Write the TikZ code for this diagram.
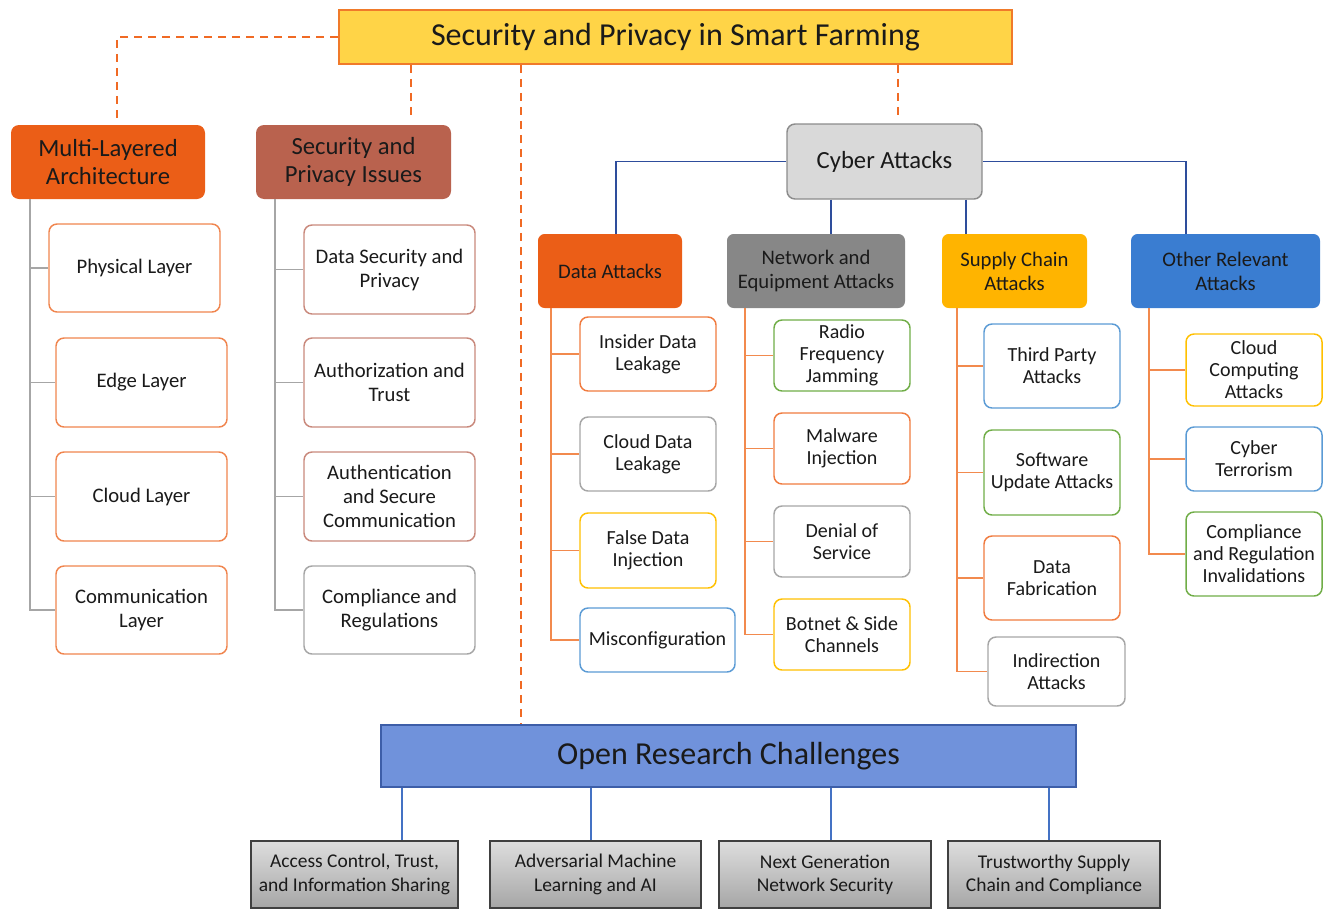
\documentclass[tikz,border=0pt]{standalone}
\usepackage{fontspec}
\setmainfont{Carlito}
\usetikzlibrary{calc}
\definecolor{cYel}{HTML}{FFD447}
\definecolor{cOrT}{HTML}{F07A2A}
\definecolor{cDash}{HTML}{F06A24}
\definecolor{cOrH}{HTML}{EB5E17}
\definecolor{cBrH}{HTML}{B9624E}
\definecolor{cGrL}{HTML}{A6A6A6}
\definecolor{cOrL}{HTML}{F0854E}
\definecolor{cBrL}{HTML}{C9897C}
\definecolor{cCyF}{HTML}{D9D9D9}
\definecolor{cCyD}{HTML}{8C8C8C}
\definecolor{cBlC}{HTML}{2E4D9C}
\definecolor{cNet}{HTML}{878787}
\definecolor{cSup}{HTML}{FFB400}
\definecolor{cOth}{HTML}{3A7DD1}
\definecolor{cTreeO}{HTML}{F28A4E}
\definecolor{cLO}{HTML}{F07B3F}
\definecolor{cLY}{HTML}{FFC000}
\definecolor{cLB}{HTML}{5B9BD5}
\definecolor{cLG}{HTML}{70AD47}
\definecolor{cOrcF}{HTML}{7092DB}
\definecolor{cOrcD}{HTML}{3D5EA8}
\definecolor{cBotL}{HTML}{4472C4}
\definecolor{cTx}{HTML}{1A1A1A}
\newcommand\bx[7]{\node[#2, minimum width={(#5-#3)*0.75pt}, minimum height={(#6-#4)*0.75pt}] (#1) at ({(#3+#5)/2},{(#4+#6)/2}) {#7};}
\tikzset{
  base/.style={inner sep=2pt, align=center, text=cTx},
  titlebox/.style={base, draw=cOrT, line width=1.2pt, fill=cYel, font=\fontsize{24}{28}\selectfont},
  hdr/.style={base, rounded corners=6pt, font=\fontsize{18.5}{21}\selectfont},
  sub/.style={base, rounded corners=5pt, font=\fontsize{15.5}{18}\selectfont},
  leaf/.style={base, draw, fill=white, line width=1.1pt, rounded corners=6pt, font=\fontsize{15}{16.5}\selectfont},
  leafL/.style={leaf, font=\fontsize{15.5}{18}\selectfont},
  orcbox/.style={base, draw=cOrcD, fill=cOrcF, line width=1pt, font=\fontsize{24}{28}\selectfont},
  botbox/.style={base, draw=black!75, line width=1pt, top color=black!13, bottom color=black!35, font=\fontsize{14.6}{17.5}\selectfont},
  dashline/.style={draw=cDash, line width=1.8pt, dash pattern=on 6pt off 4.5pt},
  gline/.style={draw=cGrL, line width=1.2pt},
  oline/.style={draw=cTreeO, line width=1.2pt},
  bline/.style={draw=cBlC, line width=1pt},
  lbline/.style={draw=cBotL, line width=1pt}
}
\begin{document}
\begin{tikzpicture}[x=0.75pt,y=-0.75pt]
\useasboundingbox (0,0) rectangle (1327,910);
% top
\bx{title}{titlebox}{339}{10}{1012}{64}{Security and Privacy in Smart Farming}
\bx{mla}{hdr, fill=cOrH}{11}{125}{205}{199}{Multi-Layered\\Architecture}
\bx{spi}{hdr, fill=cBrH}{256}{125}{451}{199}{Security and\\Privacy Issues}
\bx{cyber}{hdr, draw=cCyD, line width=1.1pt, fill=cCyF}{787}{124}{982}{199}{Cyber Attacks}
\bx{orc}{orcbox}{381}{725}{1076}{787}{Open Research Challenges}
% left column 1
\bx{phys}{leafL, draw=cOrL}{49}{224}{220}{312}{Physical Layer}
\bx{edgel}{leafL, draw=cOrL}{56}{338}{227}{427}{Edge Layer}
\bx{cloudl}{leafL, draw=cOrL}{56}{452}{227}{541}{Cloud Layer}
\bx{comm}{leafL, draw=cOrL}{56}{566}{227}{654}{Communication\\Layer}
% left column 2
\bx{dsp}{leafL, draw=cBrL}{304}{225}{475}{314}{Data Security and\\Privacy}
\bx{aut}{leafL, draw=cBrL}{304}{338}{475}{427}{Authorization and\\Trust}
\bx{asc}{leafL, draw=cBrL}{304}{452}{475}{541}{Authentication\\and Secure\\Communication}
\bx{cr}{leafL, draw=cGrL}{304}{566}{475}{654}{Compliance and\\Regulations}
% attack headers
\bx{da}{sub, fill=cOrH}{538}{234}{682}{308}{Data Attacks}
\bx{nea}{sub, fill=cNet}{727}{234}{905}{308}{Network and\\Equipment Attacks}
\bx{sca}{sub, fill=cSup}{942}{234}{1087}{308}{Supply Chain\\Attacks}
\bx{ora}{sub, fill=cOth}{1131}{234}{1320}{308}{Other Relevant\\Attacks}
% data attacks
\bx{idl}{leaf, draw=cLO}{580}{317}{716}{391}{Insider Data\\Leakage}
\bx{cdl}{leaf, draw=cGrL}{580}{417}{716}{491}{Cloud Data\\Leakage}
\bx{fdi}{leaf, draw=cLY}{580}{513}{716}{588}{False Data\\Injection}
\bx{mis}{leaf, draw=cLB}{580}{608}{735}{672}{Misconfiguration}
% network
\bx{rfj}{leaf, draw=cLG}{774}{320}{910}{391}{Radio\\Frequency\\Jamming}
\bx{mal}{leaf, draw=cLO}{774}{413}{910}{484}{Malware\\Injection}
\bx{dos}{leaf, draw=cGrL}{774}{506}{910}{577}{Denial of\\Service}
\bx{bsc}{leaf, draw=cLY}{774}{599}{910}{670}{Botnet \& Side\\Channels}
% supply chain
\bx{tpa}{leaf, draw=cLB}{984}{324}{1120}{408}{Third Party\\Attacks}
\bx{sua}{leaf, draw=cLG}{984}{430}{1120}{515}{Software\\Update Attacks}
\bx{dfa}{leaf, draw=cLO}{984}{536}{1120}{620}{Data\\Fabrication}
\bx{ind}{leaf, draw=cGrL}{988}{637}{1125}{706}{Indirection\\Attacks}
% other
\bx{cca}{leaf, draw=cLY}{1186}{334}{1322}{406}{Cloud\\Computing\\Attacks}
\bx{cyt}{leaf, draw=cLB}{1186}{427}{1322}{491}{Cyber\\Terrorism}
\bx{cri}{leaf, draw=cLG}{1186}{512}{1322}{596}{Compliance\\and Regulation\\Invalidations}
% bottom
\bx{b1}{botbox}{251}{841}{458}{908}{Access Control, Trust,\\and Information Sharing}
\bx{b2}{botbox}{490}{841}{701}{908}{Adversarial Machine\\Learning and AI}
\bx{b3}{botbox}{719}{841}{931}{908}{Next Generation\\Network Security}
\bx{b4}{botbox}{948}{841}{1160}{908}{Trustworthy Supply\\Chain and Compliance}
% helper coordinates
\coordinate (dA) at (117,122);
\coordinate (dB) at (411,118);
\coordinate (dC) at (521,0);
\coordinate (dD) at (898,118);
\coordinate (tL1) at (30,0);
\coordinate (tL2) at (275,0);
\coordinate (tA) at (551,0);
\coordinate (tB) at (745,0);
\coordinate (tC) at (957,0);
\coordinate (tD) at (1149,0);
\coordinate (cA) at (616,0);
\coordinate (cB) at (831,0);
\coordinate (cC) at (966,0);
\coordinate (cD) at (1186,0);
\coordinate (oA) at (402,0);
\coordinate (oB) at (591,0);
\coordinate (oC) at (831,0);
\coordinate (oD) at (1049,0);
% dashed
\draw[dashline] (title.west) -| (dA);
\draw[dashline] (title.south -| dB) -- (dB);
\draw[dashline] (title.south -| dC) -- (orc.north -| dC);
\draw[dashline] (title.south -| dD) -- (dD);
% left trees
\draw[gline] (mla.south -| tL1) |- (comm.west);
\foreach \n in {phys,edgel,cloudl} \draw[gline] (\n.west -| tL1) -- (\n.west);
\draw[gline] (spi.south -| tL2) |- (cr.west);
\foreach \n in {dsp,aut,asc} \draw[gline] (\n.west -| tL2) -- (\n.west);
% cyber connectors
\draw[bline] (cyber.west) -| (da.north -| cA);
\draw[bline] (cyber.south -| cB) -- (nea.north -| cB);
\draw[bline] (cyber.south -| cC) -- (sca.north -| cC);
\draw[bline] (cyber.east) -| (ora.north -| cD);
% attack trees
\draw[oline] (da.south -| tA) |- (mis.west);
\foreach \n in {idl,cdl,fdi} \draw[oline] (\n.west -| tA) -- (\n.west);
\draw[oline] (nea.south -| tB) |- (bsc.west);
\foreach \n in {rfj,mal,dos} \draw[oline] (\n.west -| tB) -- (\n.west);
\draw[oline] (sca.south -| tC) |- (ind.west);
\foreach \n in {tpa,sua,dfa} \draw[oline] (\n.west -| tC) -- (\n.west);
\draw[oline] (ora.south -| tD) |- (cri.west);
\foreach \n in {cca,cyt} \draw[oline] (\n.west -| tD) -- (\n.west);
% bottom connectors
\draw[lbline] (orc.south -| oA) -- (b1.north -| oA);
\draw[lbline] (orc.south -| oB) -- (b2.north -| oB);
\draw[lbline] (orc.south -| oC) -- (b3.north -| oC);
\draw[lbline] (orc.south -| oD) -- (b4.north -| oD);
\end{tikzpicture}
\end{document}
